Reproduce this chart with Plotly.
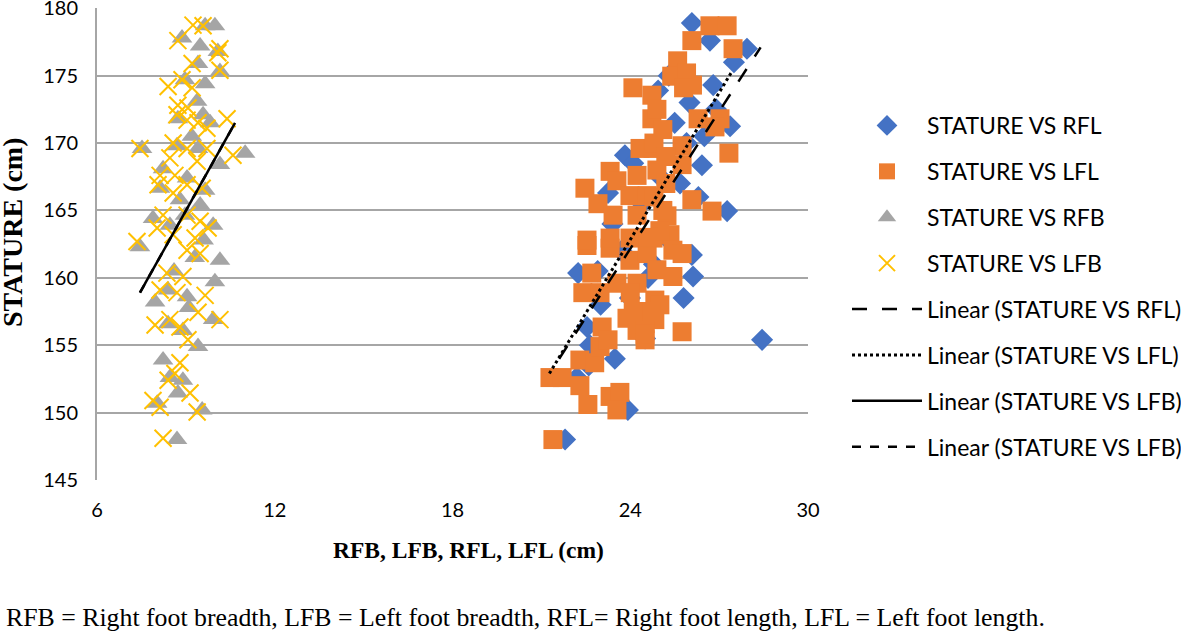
import plotly.graph_objects as go

# ---------------- data ----------------
# STATURE VS LFL (orange squares)
lfl_x = [26.69, 27.27, 26.08, 27.47, 25.6, 25.4, 25.9, 26.1, 25.8, 26.29, 27.03, 26.86,
         27.33, 25.75, 25.75, 26.08, 26.76, 25.24, 25.34, 25.44, 25.75, 24.83, 24.83,
         25.44, 25.75, 21.29, 21.7, 22.3, 22.57, 21.39, 23.32, 23.65, 23.55, 22.3, 22.8,
         23.05, 22.98, 23.25, 23.89, 24.23, 24.5, 24.5, 22.7, 22.4, 22.98, 23.55, 24.23,
         24.0, 22.54, 23.32, 23.99, 24.57, 24.9, 24.09, 24.73, 24.73, 24.33, 24.77, 23.32,
         22.47, 22.91, 23.55, 24.23, 23.99, 24.57, 23.42, 24.23, 23.32, 23.99, 24.77, 22.54,
         24.9, 25.1, 24.8, 25.2, 24.9, 25.2, 24.8, 25.1, 25.0, 24.6, 25.0, 24.7, 24.1, 24.5]
lfl_y = [178.7, 178.7, 177.6, 177.0, 176.1, 174.96, 175.2, 174.3, 174.1, 171.8, 171.8, 171.2,
         169.25, 169.8, 168.4, 165.8, 164.95, 164.6, 163.2, 160.1, 156.0, 158.35, 156.9,
         162.05, 161.8, 152.6, 152.6, 152.0, 150.6, 148.0, 151.2, 151.5, 150.2, 153.9, 153.7,
         156.35, 154.9, 155.4, 157.0, 156.1, 155.4, 156.6, 160.35, 158.9, 158.9, 159.6, 159.6,
         158.9, 162.4, 162.2, 161.3, 161.8, 160.6, 174.1, 173.55, 171.8, 169.6, 169.6, 167.9,
         166.65, 165.5, 167.2, 167.6, 166.1, 166.1, 164.65, 164.65, 162.95, 162.95, 162.95, 162.8,
         172.5, 171.0, 170.0, 169.0, 168.0, 167.0, 166.0, 165.0, 163.5, 163.0, 158.0, 157.5,
         157.5, 155.8]

# STATURE VS RFL (blue diamonds)
rfl_x = [28.45, 26.12, 27.37, 26.42, 26.8, 27.94, 26.69, 26.08, 27.27, 25.68, 23.48, 23.92,
         21.8, 22.24, 23.99, 22.54, 22.64, 23.82, 23.25, 24.94, 26.08, 22.2, 26.9, 27.5,
         25.9, 26.3, 25.2, 24.6, 24.2, 23.7, 23.0, 22.6, 24.4, 25.0, 25.5, 26.0, 24.8,
         23.4, 22.9, 24.1, 25.3, 26.5, 25.8, 24.5, 23.6]
rfl_y = [155.4, 160.1, 171.25, 168.35, 174.3, 177.0, 177.6, 178.9, 164.95, 167.0, 154.0, 150.2,
         148.0, 160.35, 158.5, 156.35, 155.0, 169.1, 166.3, 173.9, 161.7, 152.6, 172.5, 176.0,
         170.0, 166.0, 163.0, 160.0, 157.5, 162.0, 158.0, 153.5, 165.5, 167.5, 171.5, 173.0, 161.0,
         164.0, 160.5, 168.5, 175.0, 170.5, 158.5, 155.5, 151.0]

# STATURE VS RFB (grey triangles)
rfb_x = [9.65, 9.98, 8.87, 9.48, 10.08, 9.41, 10.15, 8.97, 9.65, 9.38, 9.58, 8.73, 9.82,
         7.52, 11.0, 10.15, 8.70, 9.41, 8.23, 8.13, 9.04, 9.65, 7.89, 9.48, 9.92, 7.45,
         8.46, 8.97, 10.15, 9.98, 7.96, 8.4, 9.04, 9.92, 8.4, 8.9, 9.41, 8.23, 8.9, 8.46,
         8.03, 8.73, 9.55, 8.70, 9.2, 8.8, 9.3, 8.6, 9.1, 9.6]
rfb_y = [178.7, 178.7, 177.8, 177.2, 176.8, 175.9, 175.3, 174.7, 174.4, 173.1, 172.1, 171.8, 171.5,
         169.6, 169.25, 168.4, 169.8, 169.6, 168.1, 166.65, 167.4, 166.5, 164.4, 165.4, 163.9, 162.3,
         163.9, 164.65, 161.3, 159.7, 158.2, 159.1, 158.6, 156.9, 156.6, 156.1, 154.9, 153.9, 152.4, 152.6,
         150.7, 151.45, 150.2, 148.0, 170.5, 165.8, 161.5, 160.5, 157.8, 162.8]

# STATURE VS LFB (yellow crosses)
lfb_x = [9.24, 9.58, 8.73, 10.15, 10.08, 9.21, 10.15, 8.4, 8.87, 9.21, 8.73, 9.07, 8.70, 9.04,
         9.41, 9.71, 10.39, 7.45, 10.59, 8.57, 9.04, 9.71, 8.46, 9.38, 8.13, 8.63, 8.06, 9.04,
         8.57, 9.55, 8.23, 9.04, 9.48, 8.03, 8.57, 9.31, 9.75, 7.35, 9.04, 9.48, 8.36, 8.9,
         8.13, 8.70, 9.65, 7.96, 8.46, 8.8, 9.41, 10.15, 9.07, 8.8, 8.4, 8.63, 9.14, 7.89,
         8.13, 9.38, 8.23]
lfb_y = [178.75, 178.7, 177.6, 177.0, 176.7, 175.9, 175.4, 174.2, 174.7, 174.1, 172.8, 172.6, 172.1,
         171.7, 171.5, 171.1, 171.8, 169.6, 169.1, 170.0, 169.6, 169.6, 168.9, 168.65, 167.6, 167.6,
         166.9, 166.9, 166.3, 166.65, 164.65, 164.65, 164.2, 163.7, 163.2, 162.95, 163.7, 162.7, 162.05,
         161.8, 160.35, 160.1, 159.1, 158.9, 158.7, 156.5, 156.9, 156.35, 157.45, 156.9, 155.4, 153.7,
         152.4, 152.9, 151.45, 150.9, 150.4, 150.05, 148.1]

# linear trendline end points
trend_rfl_x = [21.6, 28.4]
trend_rfl_y = [154.0, 177.1]
trend_lfl_x = [21.27, 27.43]
trend_lfl_y = [152.9, 175.3]
trend_lfb_x = [7.45, 10.66]
trend_lfb_y = [158.9, 171.5]
trend_rfb_x = [7.45, 10.66]
trend_rfb_y = [158.9, 171.5]

x_ticks = [6, 12, 18, 24, 30]
y_ticks = [145, 150, 155, 160, 165, 170, 175, 180]

# ---------------- figure ----------------
SANS = "Lato, Carlito, Calibri, sans-serif"
SERIF = "Liberation Serif, Times New Roman, serif"

L, R, T, B = 97, 373, 8, 152
W, H = 1181, 632
PW, PH = W - L - R, H - T - B

fig = go.Figure()

def add_scatter(x, y, name, symbol, color, size, rank, line=None):
    marker = dict(symbol=symbol, color=color, size=size)
    if line is not None:
        marker["line"] = line
    fig.add_trace(go.Scatter(x=x, y=y, mode="markers", name=name, marker=marker,
                             legendgroup=name, legendrank=rank))

add_scatter(rfl_x, rfl_y, "STATURE VS RFL", "diamond", "#4472C4", 17, 1)
add_scatter(lfl_x, lfl_y, "STATURE VS LFL", "square", "#ED7D31", 19, 2)
add_scatter(rfb_x, rfb_y, "STATURE VS RFB", "triangle-up", "#A5A5A5", 18, 3)
add_scatter(lfb_x, lfb_y, "STATURE VS LFB", "x-thin-open", "#FFC000", 17, 4,
            line=dict(color="#FFC000", width=2))

def add_line(x, y, name, dash, width, group, rank):
    fig.add_trace(go.Scatter(x=x, y=y, mode="lines", name=name,
                             line=dict(color="black", dash=dash, width=width),
                             legendgroup=group, legendrank=rank))

add_line(trend_rfl_x, trend_rfl_y, "Linear (STATURE VS RFL)", "longdash", 2.5, "e", 5)
add_line(trend_lfl_x, trend_lfl_y, "Linear (STATURE VS LFL)", "dot", 3, "f", 6)
add_line(trend_rfb_x, trend_rfb_y, "Linear (STATURE VS LFB)", "dash", 2.5, "h", 8)
add_line(trend_lfb_x, trend_lfb_y, "Linear (STATURE VS LFB)", "solid", 2.5, "g", 7)

fig.update_layout(
    width=W, height=H,
    margin=dict(l=L, r=R, t=T, b=B, autoexpand=False),
    plot_bgcolor="white", paper_bgcolor="white",
    font=dict(family=SANS, size=20, color="black"),
    showlegend=True,
    legend=dict(
        x=(847 - L) / PW, y=1 - (104 - T) / PH, xanchor="left", yanchor="top",
        font=dict(family=SANS, size=23, color="black"),
        tracegroupgap=13, itemwidth=70,
        traceorder="grouped",
        bgcolor="rgba(0,0,0,0)",
    ),
    xaxis=dict(
        range=[6, 30], tickvals=x_ticks, ticktext=[str(v) for v in x_ticks],
        showgrid=False, zeroline=False, showline=False, automargin=False,
        ticks="", ticklabelstandoff=16, ticklabeloverflow="allow",
        tickfont=dict(family=SANS, size=20),
    ),
    yaxis=dict(
        range=[145, 180.02], tickvals=y_ticks, ticktext=[str(v) for v in y_ticks],
        showgrid=True, gridcolor="#A6A6A6", gridwidth=2, automargin=False,
        zeroline=False, showline=True, linecolor="#A6A6A6", linewidth=2,
        ticks="", ticklabelstandoff=13, ticklabeloverflow="allow",
        tickfont=dict(family=SANS, size=20),
    ),
)

# axis titles
fig.add_annotation(
    text="<b>RFB, LFB, RFL, LFL (cm)</b>",
    xref="paper", yref="paper", x=(468 - L) / PW, y=-(550 - (T + PH)) / PH,
    xanchor="center", yanchor="middle", showarrow=False,
    font=dict(family=SERIF, size=23.5, color="black"),
)
fig.add_annotation(
    text="<b>STATURE (cm)</b>", textangle=-90,
    xref="paper", yref="paper", x=-(L - 12) / PW, y=1 - (232 - T) / PH,
    xanchor="center", yanchor="middle", showarrow=False,
    font=dict(family=SERIF, size=28, color="black"),
)

# footnote
fig.add_annotation(
    text="RFB = Right foot breadth, LFB = Left foot breadth, RFL= Right foot length, LFL = Left foot length.",
    xref="paper", yref="paper", x=-(L - 4) / PW, y=-(617 - (T + PH)) / PH,
    xanchor="left", yanchor="middle", showarrow=False,
    font=dict(family=SERIF, size=25.8, color="black"),
)

fig.write_html("out.html", config={"displayModeBar": False},
               post_script="document.body.style.margin='0';")
